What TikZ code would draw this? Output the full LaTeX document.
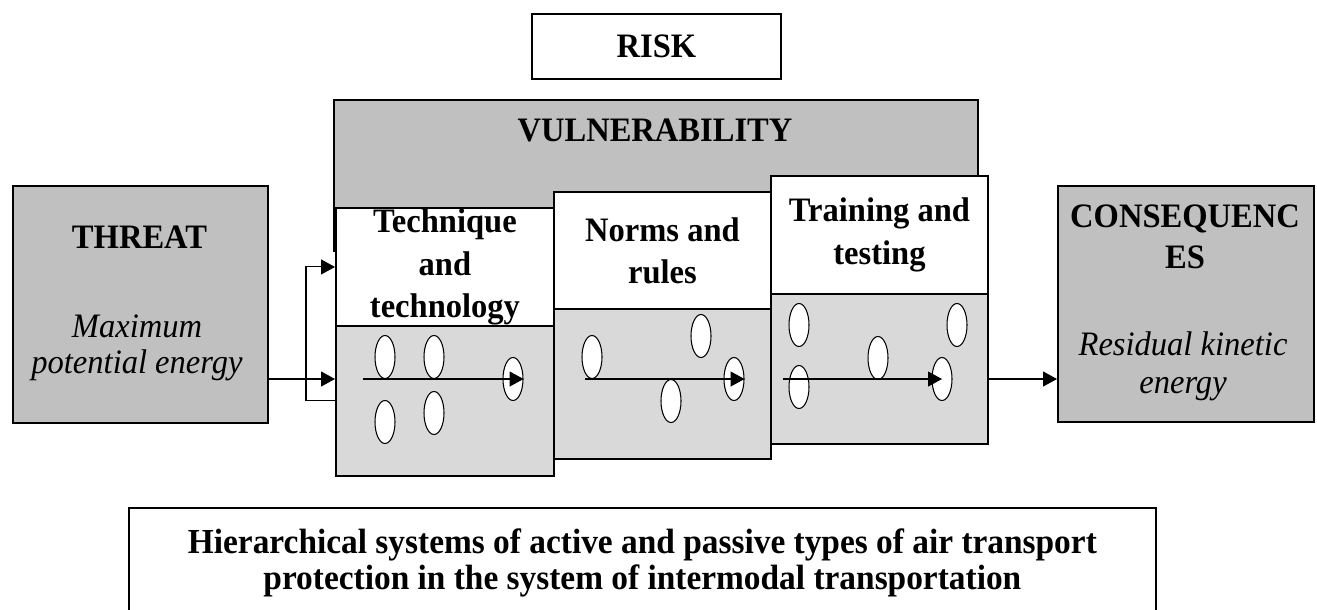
\documentclass[tikz,border=0pt]{standalone}
\usepackage{fontspec}
\setmainfont{Liberation Serif}[FakeStretch=0.95]
\usetikzlibrary{shapes,arrows.meta,positioning,calc}

\definecolor{darkbox}{HTML}{C0C0C0}
\definecolor{lightbox}{HTML}{D9D9D9}

\tikzset{
  box/.style={rectangle, draw, line width=1.1pt, anchor=north west, inner sep=0pt},
  head/.style={font=\bfseries\fontsize{19.5}{24}\selectfont, align=center},
  note/.style={font=\itshape\fontsize{19.5}{20.5}\selectfont, align=center},
  oval/.style={ellipse, draw, fill=white, line width=0.6pt, minimum width=0.4cm, minimum height=0.86cm, inner sep=0pt},
  arr/.style={-{Triangle[length=0.28cm,width=0.3cm]}, line width=0.6pt},
}

\begin{document}
\begin{tikzpicture}[x=0.02cm, y=-0.02cm]
\useasboundingbox (0,0) rectangle (1317,609);

\node[box, minimum width=4.98cm, minimum height=1.3cm, head] (risk) at (531,13) {RISK};

\node[box, fill=darkbox, minimum width=12.88cm, minimum height=3.02cm] (vuln) at (333,99) {};
\node[head] (vulntxt) at (655,130) {VULNERABILITY};

% the three layers of protection
\node[box, fill=white, minimum width=4.36cm, minimum height=2.36cm, head] (techup) at (335,207) {Technique\\and\\technology};
\node[box, fill=lightbox, minimum width=4.36cm, minimum height=3cm] (techlo) at (335,325) {};
\node[box, fill=white, minimum width=4.34cm, minimum height=2.34cm, head] (normup) at (553,191) {Norms and\\rules};
\node[box, fill=lightbox, minimum width=4.34cm, minimum height=3cm] (normlo) at (553,308) {};
\node[box, fill=white, minimum width=4.34cm, minimum height=2.36cm, head] (trainup) at (770,175) {Training and\\testing};
\node[box, fill=lightbox, minimum width=4.34cm, minimum height=3cm] (trainlo) at (770,293) {};

\node[box, fill=darkbox, minimum width=5.1cm, minimum height=4.74cm] (threat) at (12,185) {};
\node[head] (threattxt) at (139.5,237.5) {THREAT};
\node[note] (threatnote) at (137,348) {Maximum\\potential energy};

\node[box, fill=darkbox, minimum width=5.12cm, minimum height=4.72cm] (cons) at (1057,185) {};
\node[head, font=\bfseries\fontsize{19.5}{23.2}\selectfont] (constxt) at (1185,237) {CONSEQUENC\\ES};
\node[note, font=\itshape\fontsize{19.5}{21.5}\selectfont] (consnote) at (1183,366.5) {Residual kinetic\\energy};

\node[box, minimum width=20.54cm, minimum height=2.2cm, font=\bfseries\fontsize{20}{20.5}\selectfont, align=center] (hier) at (128,507) {Hierarchical systems of active and passive types of air transport\\protection in the system of intermodal transportation};

% barriers
\foreach \p [count=\i] in {(385,357),(434,357),(385,422),(434,413),(513,379)}
  \node[oval] (te\i) at \p {};
\foreach \p [count=\i] in {(592,357),(701,336),(671,401),(734,379)}
  \node[oval] (no\i) at \p {};
\foreach \p [count=\i] in {(799,325),(957,325),(878,358),(799,387),(942,379)}
  \node[oval] (tr\i) at \p {};

\coordinate (flow) at (0,379);
\coordinate (tstart) at (363,379);
\coordinate (nstart) at (585,379);
\coordinate (rstart) at (783,379);

\draw[arr] (tstart) -- (te5.east);
\draw[arr] (nstart) -- (no4.east);
\draw[arr] (rstart) -- (tr5.center);

\draw[arr] (threat.east |- flow) -- (techlo.west |- flow);
\draw[arr] (techlo.west) -- ++(-29,0) |- (techup.west);
\draw[arr] (trainlo.east |- flow) -- (cons.west |- flow);
\end{tikzpicture}
\end{document}
